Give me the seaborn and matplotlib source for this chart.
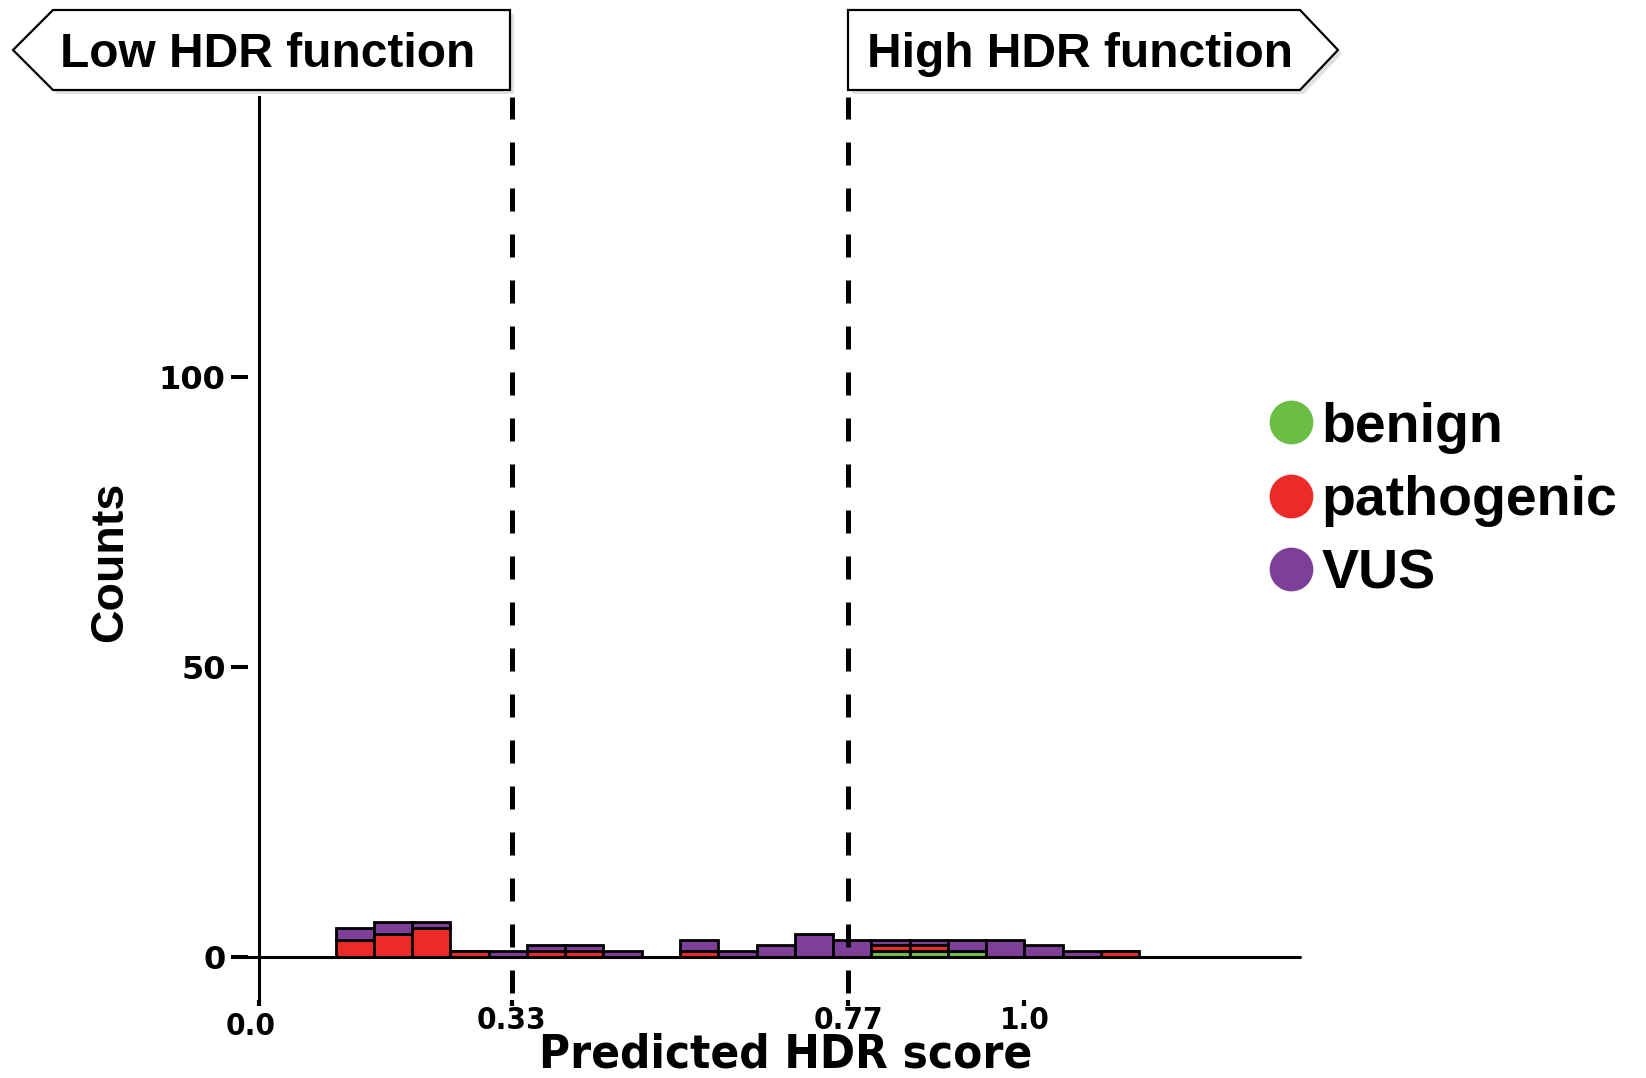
import numpy as np
import pandas as pd
import matplotlib
matplotlib.use("Agg")
import matplotlib.pyplot as plt
import seaborn as sns
from matplotlib.path import Path
from matplotlib.patches import Polygon
from matplotlib.lines import Line2D
from matplotlib import font_manager
from matplotlib.font_manager import FontProperties
from matplotlib.transforms import ScaledTranslation

# ---------------- data ----------------
bin_left = [0.05, 0.10, 0.15, 0.20, 0.25, 0.30, 0.35, 0.40, 0.45, 0.50,
            0.55, 0.60, 0.65, 0.70, 0.75, 0.80, 0.85, 0.90, 0.95, 1.00,
            1.05, 1.10, 1.15, 1.20, 1.25, 1.30]
bin_width = 0.05
benign     = [0, 0, 0, 0, 0, 0, 0, 0, 0, 0, 0, 0, 0, 0, 0, 1, 1, 1, 0, 0, 0, 0, 0, 0, 0, 0]
pathogenic = [0, 3, 4, 5, 1, 0, 1, 1, 0, 0, 1, 0, 0, 0, 0, 1, 1, 0, 0, 0, 0, 1, 0, 0, 0, 0]
vus        = [0, 2, 2, 1, 0, 1, 1, 1, 1, 0, 2, 1, 2, 4, 3, 1, 1, 2, 3, 2, 1, 0, 0, 0, 0, 0]

classes = ["benign", "pathogenic", "VUS"]
colors = {"benign": "#6BBE45", "pathogenic": "#EC2A27", "VUS": "#7E3F98"}
thresholds = [0.33, 0.77]
xtick_values = [0.0, 0.33, 0.77, 1.0]
xtick_labels = ["0.0", "0.33", "0.77", "1.0"]
ytick_values = [0, 50, 100]
ytick_labels = ["0", "50", "100"]
low_label = "Low HDR function"
high_label = "High HDR function"
x_title = "Predicted HDR score"
y_title = "Counts"

rows = []
for cls, vals in zip(classes, [benign, pathogenic, vus]):
    for left, c in zip(bin_left, vals):
        rows.append({"score": left + bin_width / 2, "count": c, "class": cls})
df = pd.DataFrame(rows)
edges = list(bin_left) + [bin_left[-1] + bin_width]

# ---------------- fonts ----------------
def find_condensed_bold():
    best, best_score = None, -1
    for f in font_manager.fontManager.ttflist:
        nm = f.name
        st = f.stretch
        cond = ("Narrow" in nm) or ("Condensed" in nm) or \
               (isinstance(st, str) and "condensed" in st) or \
               (isinstance(st, (int, float)) and st < 500)
        if not cond:
            continue
        if "Serif" in nm or "Mono" in nm:
            continue
        w = f.weight
        wnum = w if isinstance(w, (int, float)) else {"bold": 700, "heavy": 800, "black": 900,
                                                         "semibold": 600, "demibold": 600}.get(str(w), 400)
        if f.style != "normal":
            continue
        score = 0
        if wnum >= 700:
            score += 10
        elif wnum >= 600:
            score += 6
        if "Liberation" in nm or "Arial" in nm or "Helvetica" in nm:
            score += 3
        if score > best_score:
            best, best_score = f, score
    return best

cf = find_condensed_bold()
bold_family = ["Liberation Sans", "DejaVu Sans"]
if cf is not None:
    cond_fname = cf.fname
    def cond_fp(size):
        return FontProperties(fname=cond_fname, size=size)
    tick_size, title_size = 22.5, 34
else:
    def cond_fp(size):
        return FontProperties(family=bold_family, weight="bold", size=size)
    tick_size, title_size = 23, 34

sns.set_theme(style="white")
plt.rcParams["font.family"] = bold_family
plt.rcParams["text.color"] = "black"

W, H = 1646, 1078
fig = plt.figure(figsize=(W / 100, H / 100), dpi=100)
fig.patch.set_facecolor("white")

def P(x, y):
    return (x / W, 1 - y / H)

ax_left, ax_right, ax_top, ax_bottom = 259, 1300, 97, 1000
ax = fig.add_axes([ax_left / W, 1 - ax_bottom / H, (ax_right - ax_left) / W, (ax_bottom - ax_top) / H])
ax.set_facecolor("white")

sns.histplot(data=df, x="score", weights="count", hue="class",
             hue_order=["VUS", "pathogenic", "benign"], multiple="stack",
             bins=edges, palette=colors, edgecolor="black", linewidth=2.0,
             alpha=1, legend=False, ax=ax, zorder=3)
ax.set_xlabel("")
ax.set_ylabel("")

ax.set_xlim(0, 1.36)
ax.set_ylim(-7.4, 148.3)

# threshold lines (dash phase chosen so a dash starts at the top of the axis)
for t in thresholds:
    ax.axvline(t, color="black", lw=3.6, linestyle=(7.8, (4.6, 4.6)), zorder=5, clip_on=False)

# baseline at zero
ax.axhline(0, xmin=-26 / (ax_right - ax_left), xmax=1, color="black", lw=2.2, clip_on=False, zorder=4)

# spines
for s in ["top", "right", "bottom"]:
    ax.spines[s].set_visible(False)
ax.spines["left"].set_color("black")
ax.spines["left"].set_linewidth(2.2)
ax.grid(False)

# y ticks with detached dash marks
ax.set_yticks(ytick_values)
ax.set_yticklabels(ytick_labels, fontsize=23, fontweight="bold", family=["DejaVu Sans"])
ax.tick_params(axis="y", length=0, pad=24, colors="black")
dash = Path([(-28, 0), (-11, 0)], [Path.MOVETO, Path.LINETO])
for tk in ax.yaxis.get_major_ticks():
    tk.tick1line.set_marker(dash)
    tk.tick1line.set_markersize(40.3)
    tk.tick1line.set_markeredgewidth(2.9)
    tk.tick1line.set_markeredgecolor("black")
    tk.tick1line.set_visible(True)

# x ticks
ax.set_xticks(xtick_values)
ax.set_xticklabels(xtick_labels, fontproperties=cond_fp(tick_size), color="black")
ax.tick_params(axis="x", length=4, width=3, pad=0, colors="black", direction="out", bottom=True)
# the "0.0" label sits slightly lower and to the left in the original
first = ax.get_xticklabels()[0]
first.set_transform(first.get_transform() + ScaledTranslation(-8 / 100, -6 / 100, fig.dpi_scale_trans))

# axis titles
fig.text(*P(110, 562), y_title, rotation=90, ha="center", va="center",
         fontsize=33.5, fontweight="bold", color="black", family=bold_family)
fig.text(*P(786, 1068), x_title, ha="center", va="baseline",
         fontproperties=cond_fp(title_size), color="black")

# arrow boxes
def arrow_box(pts, text, cx):
    shadow = [(x + 4, y + 4) for x, y in pts]
    fig.patches.append(Polygon([P(*p) for p in shadow], closed=True, transform=fig.transFigure,
                               facecolor="#bdbdbd", edgecolor="none", alpha=0.45, zorder=1))
    fig.patches.append(Polygon([P(*p) for p in pts], closed=True, transform=fig.transFigure,
                               facecolor="white", edgecolor="black", lw=1.6, zorder=2))
    fig.text(*P(cx, 67), text, ha="center", va="baseline", fontsize=34.5,
             fontweight="bold", color="black", family=bold_family, zorder=3)

arrow_box([(13, 50), (53, 10), (510, 10), (510, 90), (53, 90)], low_label, 268)
arrow_box([(848, 10), (1300, 10), (1338, 50), (1300, 90), (848, 90)], high_label, 1080)

# legend
handles = [Line2D([], [], marker="o", linestyle="", markersize=31.5,
                  markerfacecolor=colors[c], markeredgecolor="none") for c in classes]
leg = fig.legend(handles, classes, loc="center left", bbox_to_anchor=P(1269, 501),
                 frameon=False, borderpad=0, borderaxespad=0, handlelength=0.8,
                 handletextpad=0.15, labelspacing=0.38,
                 prop={"family": bold_family, "weight": "bold", "size": 40})
for t in leg.get_texts():
    t.set_color("black")

fig.savefig("out.png", dpi=100, facecolor="white")
